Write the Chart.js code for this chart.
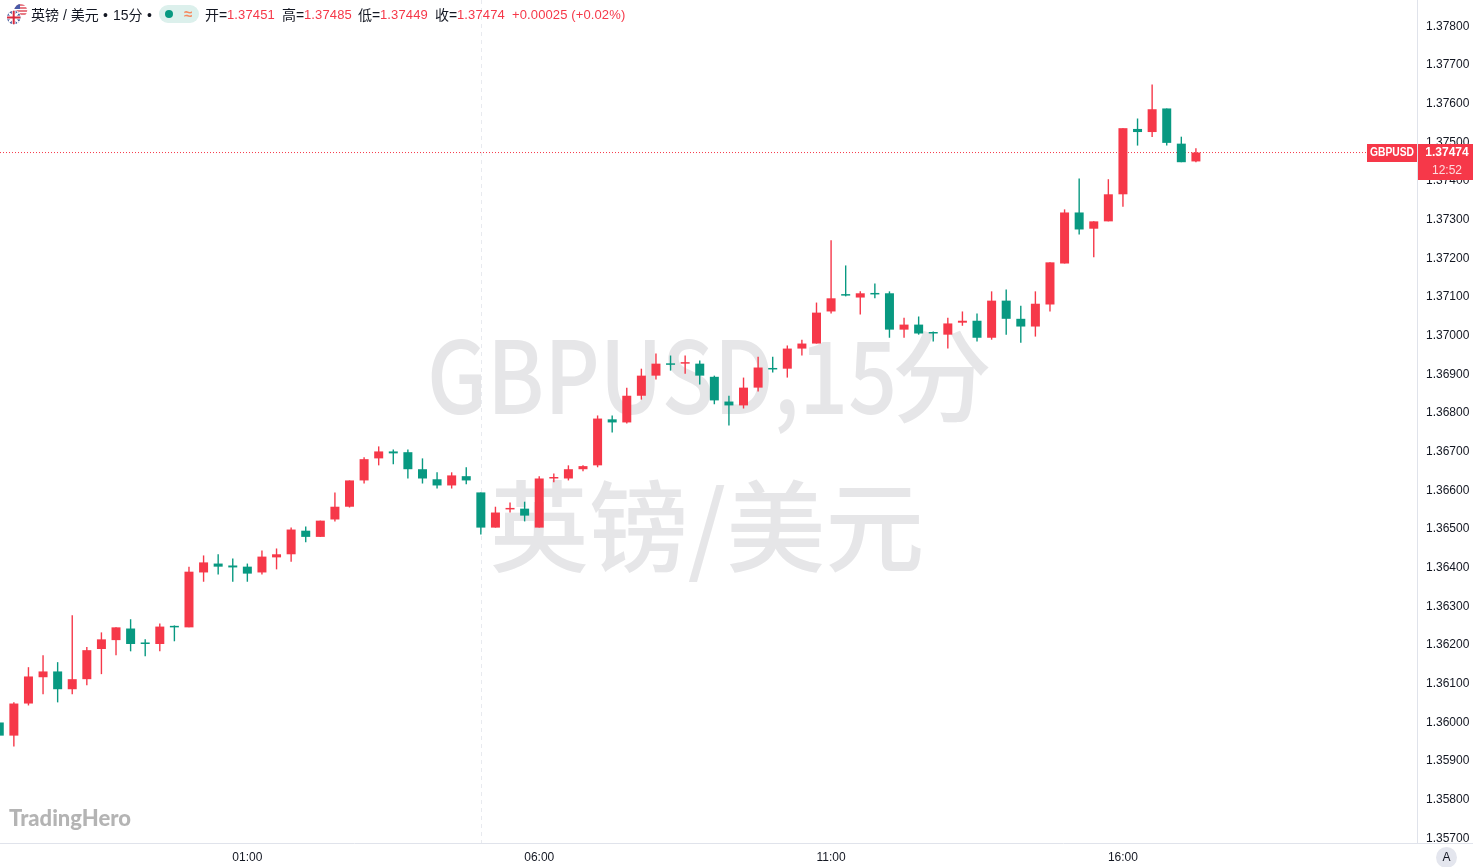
<!DOCTYPE html>
<html>
<head>
<meta charset="utf-8">
<title>GBPUSD 15分</title>
<script src="https://cdn.jsdelivr.net/npm/chart.js@4"></script>
<style>
  html, body { margin: 0; padding: 0; background: #fff; overflow: hidden; }
  #wrap { position: relative; width: 1473px; height: 867px; }
  canvas { position: absolute; left: 0; top: 0; }
  .t { position: absolute; top: 6px; font: 14px/18px "Liberation Sans", "Noto Sans CJK SC", sans-serif; color: #131722; white-space: nowrap; }
  .v { font-size: 13px; color: #f63849; letter-spacing: 0.12px; }
  #pill { position: absolute; left: 159px; top: 5px; width: 40px; height: 18px; border-radius: 9px; background: #dcf0ec; }
  #dot { position: absolute; left: 6px; top: 5px; width: 8px; height: 8px; border-radius: 50%; background: #089981; }
  #wave { position: absolute; left: 25px; top: 0; font: bold 15px/18px "Liberation Sans", sans-serif; color: #f58a60; }
  #flags { position: absolute; left: 6px; top: 4px; }
  #auto { position: absolute; left: 1436px; top: 847px; width: 21px; height: 21px; border-radius: 50%; background: #e4e6ee; color: #131722; font: 12px/21px "Liberation Sans", sans-serif; text-align: center; }
  #logo { position: absolute; left: 9px; top: 804px; font: 900 22px/28px "Lato", sans-serif; color: #b4b4b4; }
</style>
</head>
<body>
<div id="wrap">
  <canvas id="chart" width="1473" height="867"></canvas>
  <svg id="flags" width="22" height="22" viewBox="0 0 22 22">
    <defs>
      <clipPath id="cu"><circle cx="14.7" cy="6.5" r="6.5"/></clipPath>
      <clipPath id="cb"><circle cx="7.7" cy="13.5" r="6.7"/></clipPath>
    </defs>
    <g clip-path="url(#cu)">
      <rect x="8" y="0" width="14" height="13" fill="#fff"/>
      <path d="M8 1h14M8 4h14M8 7h14M8 10h14" stroke="#e0505e" stroke-width="1.5"/>
      <rect x="8" y="0" width="6" height="5" fill="#4a5ca8"/>
    </g>
    <circle cx="7.7" cy="13.5" r="7.4" fill="#fff"/>
    <g clip-path="url(#cb)">
      <rect x="0" y="6" width="16" height="15" fill="#27408b"/>
      <path d="M1 7l13 13M14 7L1 20" stroke="#fff" stroke-width="2.4"/>
      <path d="M7.7 6v15M0 13.5h16" stroke="#fff" stroke-width="4"/>
      <path d="M7.7 6v15M0 13.5h16" stroke="#d8283c" stroke-width="2"/>
    </g>
  </svg>
  <span class="t" style="left:31px">英镑 / 美元</span>
  <span class="t" style="left:103px">•</span>
  <span class="t" style="left:113px">15分</span>
  <span class="t" style="left:147px">•</span>
  <div id="pill"><div id="dot"></div><div id="wave">≈</div></div>
  <span class="t" style="left:205px">开=</span><span class="t v" style="left:227px">1.37451</span>
  <span class="t" style="left:282px">高=</span><span class="t v" style="left:304px">1.37485</span>
  <span class="t" style="left:358px">低=</span><span class="t v" style="left:380px">1.37449</span>
  <span class="t" style="left:435px">收=</span><span class="t v" style="left:457px">1.37474</span>
  <span class="t v" style="left:512px">+0.00025 (+0.02%)</span>
  <div id="logo">TradingHero</div>
  <div id="auto">A</div>
</div>
<script>
// 15分K线
const opens = [
  1.36000, 1.35966, 1.36049, 1.36117, 1.36132, 1.36086, 1.36112, 1.36190, 1.36213, 1.36243,
  1.36205, 1.36203, 1.36248, 1.36246, 1.36388, 1.36411, 1.36406, 1.36403, 1.36388, 1.36427,
  1.36435, 1.36496, 1.36480, 1.36525, 1.36558, 1.36626, 1.36683, 1.36701, 1.36699, 1.36655,
  1.36629, 1.36613, 1.36637, 1.36595, 1.36504, 1.36551, 1.36553, 1.36504, 1.36631, 1.36631,
  1.36655, 1.36665, 1.36784, 1.36776, 1.36845, 1.36897, 1.36928, 1.36928, 1.36928, 1.36894,
  1.36830, 1.36820, 1.36866, 1.36915, 1.36915, 1.36967, 1.36980, 1.37063, 1.37107, 1.37099,
  1.37110, 1.37110, 1.37016, 1.37029, 1.37008, 1.37003, 1.37034, 1.37039, 1.36995, 1.37091,
  1.37044, 1.37024, 1.37081, 1.37187, 1.37319, 1.37277, 1.37296, 1.37366, 1.37535, 1.37527,
  1.37588, 1.37497, 1.37451
];
const closes = [
  1.35966, 1.36049, 1.36119, 1.36132, 1.36086, 1.36112, 1.36187, 1.36215, 1.36246, 1.36203,
  1.36203, 1.36248, 1.36246, 1.36390, 1.36414, 1.36403, 1.36401, 1.36385, 1.36429, 1.36435,
  1.36499, 1.36480, 1.36522, 1.36558, 1.36626, 1.36681, 1.36701, 1.36696, 1.36655, 1.36631,
  1.36613, 1.36639, 1.36626, 1.36504, 1.36543, 1.36553, 1.36535, 1.36631, 1.36634, 1.36655,
  1.36663, 1.36786, 1.36776, 1.36845, 1.36897, 1.36928, 1.36925, 1.36931, 1.36897, 1.36833,
  1.36820, 1.36866, 1.36918, 1.36913, 1.36967, 1.36980, 1.37060, 1.37097, 1.37104, 1.37110,
  1.37107, 1.37016, 1.37029, 1.37006, 1.37006, 1.37032, 1.37039, 1.36995, 1.37091, 1.37044,
  1.37024, 1.37083, 1.37190, 1.37319, 1.37275, 1.37296, 1.37366, 1.37537, 1.37527, 1.37586,
  1.37499, 1.37449, 1.37474
];
const highs = [
  1.36000, 1.36052, 1.36143, 1.36174, 1.36156, 1.36277, 1.36195, 1.36233, 1.36246, 1.36267,
  1.36215, 1.36256, 1.36251, 1.36403, 1.36432, 1.36435, 1.36424, 1.36411, 1.36445, 1.36450,
  1.36504, 1.36507, 1.36522, 1.36595, 1.36626, 1.36686, 1.36714, 1.36706, 1.36706, 1.36683,
  1.36647, 1.36647, 1.36660, 1.36595, 1.36558, 1.36569, 1.36571, 1.36637, 1.36644, 1.36665,
  1.36665, 1.36794, 1.36794, 1.36866, 1.36915, 1.36954, 1.36949, 1.36949, 1.36936, 1.36897,
  1.36845, 1.36892, 1.36946, 1.36946, 1.36975, 1.36990, 1.37086, 1.37247, 1.37182, 1.37115,
  1.37135, 1.37115, 1.37047, 1.37050, 1.37011, 1.37047, 1.37063, 1.37058, 1.37115, 1.37120,
  1.37078, 1.37115, 1.37190, 1.37327, 1.37407, 1.37296, 1.37405, 1.37537, 1.37562, 1.37650,
  1.37588, 1.37515, 1.37485
];
const lows = [
  1.35966, 1.35938, 1.36044, 1.36073, 1.36052, 1.36073, 1.36096, 1.36125, 1.36174, 1.36184,
  1.36171, 1.36184, 1.36210, 1.36246, 1.36364, 1.36383, 1.36364, 1.36364, 1.36383, 1.36396,
  1.36416, 1.36466, 1.36480, 1.36520, 1.36556, 1.36618, 1.36665, 1.36668, 1.36631, 1.36618,
  1.36605, 1.36605, 1.36616, 1.36486, 1.36504, 1.36543, 1.36520, 1.36504, 1.36621, 1.36626,
  1.36650, 1.36660, 1.36750, 1.36773, 1.36835, 1.36887, 1.36910, 1.36902, 1.36874, 1.36823,
  1.36768, 1.36812, 1.36856, 1.36905, 1.36892, 1.36949, 1.36980, 1.37058, 1.37102, 1.37055,
  1.37097, 1.36995, 1.36995, 1.37003, 1.36985, 1.36967, 1.37026, 1.36985, 1.36990, 1.37003,
  1.36982, 1.36998, 1.37063, 1.37187, 1.37262, 1.37203, 1.37296, 1.37334, 1.37492, 1.37514,
  1.37492, 1.37449, 1.37449
];
const priceTicks = [
  1.357, 1.358, 1.359, 1.360, 1.361, 1.362, 1.363, 1.364, 1.365, 1.366, 1.367,
  1.368, 1.369, 1.370, 1.371, 1.372, 1.373, 1.374, 1.375, 1.376, 1.377, 1.378
];
const timeLabels = ['01:00', '06:00', '11:00', '16:00'];
const timeIndexes = [17, 37, 57, 77];
const sessionBreakIndex = 33;
const lastPrice = 1.37474;
const countdown = '12:52';
const symbol = 'GBPUSD';

const UP = '#f63849';
const DOWN = '#089981';
const xMin = 0.05;
const xMax = 97.15;
const candleColors = opens.map((o, i) => (closes[i] >= o ? UP : DOWN));

// 水印、时段分隔线在K线下面，价格标签在最上面
const overlay = {
  id: 'overlay',
  beforeDatasetsDraw(chart) {
    const { ctx, chartArea, scales } = chart;
    ctx.save();
    ctx.fillStyle = '#e6e6e8';
    ctx.textBaseline = 'alphabetic';
    ctx.textAlign = 'left';
    ctx.font = '500 100px "Noto Sans CJK SC"';
    ctx.fillText('GBPUSD,15', 427, 414, 470);
    ctx.fillText('分', 892, 414);
    ctx.font = '500 99px "Noto Sans CJK SC"';
    ctx.textAlign = 'center';
    ctx.fillText('英镑/美元', 707, 564);
    const bx = Math.round(scales.x.getPixelForValue(sessionBreakIndex)) + 0.5;
    ctx.strokeStyle = '#e8eaef';
    ctx.setLineDash([4, 4]);
    ctx.beginPath();
    ctx.moveTo(bx, chartArea.top);
    ctx.lineTo(bx, chartArea.bottom);
    ctx.stroke();
    ctx.restore();
  },
  afterDraw(chart) {
    const { ctx, chartArea, scales } = chart;
    const y = Math.round(scales.y.getPixelForValue(lastPrice));
    ctx.save();
    ctx.strokeStyle = '#e0e3eb';
    ctx.beginPath();
    ctx.moveTo(chartArea.right, chartArea.bottom + 0.5);
    ctx.lineTo(1473, chartArea.bottom + 0.5);
    ctx.stroke();
    ctx.fillStyle = UP;
    ctx.fillRect(1367, y - 9, 50, 18);
    ctx.fillRect(1418, y - 9, 55, 36);
    ctx.textBaseline = 'middle';
    ctx.textAlign = 'center';
    ctx.fillStyle = '#fff';
    ctx.font = 'bold 12px "Liberation Sans"';
    ctx.fillText(symbol, 1392, y, 44);
    ctx.fillText(lastPrice.toFixed(5), 1447, y);
    ctx.fillStyle = 'rgba(255,255,255,0.82)';
    ctx.font = '12px "Liberation Sans"';
    ctx.fillText(countdown, 1447, y + 18);
    ctx.restore();
  }
};

new Chart(document.getElementById('chart').getContext('2d'), {
  type: 'bar',
  data: {
    datasets: [
      {
        type: 'bar',
        label: 'body',
        order: 1,
        grouped: false,
        data: opens.map((o, i) => ({ x: i, y: [o, closes[i]] })),
        backgroundColor: candleColors,
        barThickness: 9,
        minBarLength: 1.5,
        borderWidth: 0,
        inflateAmount: 0
      },
      {
        type: 'bar',
        label: 'wick',
        order: 2,
        grouped: false,
        data: lows.map((l, i) => ({ x: i, y: [l, highs[i]] })),
        backgroundColor: candleColors,
        barThickness: 1.4,
        borderWidth: 0,
        inflateAmount: 0
      },
      {
        type: 'line',
        label: 'last',
        order: 3,
        data: [{ x: xMin, y: lastPrice }, { x: xMax, y: lastPrice }],
        borderColor: UP,
        borderWidth: 1,
        borderDash: [1, 2],
        pointRadius: 0
      }
    ]
  },
  options: {
    responsive: false,
    animation: false,
    layout: { padding: 0 },
    plugins: { legend: { display: false }, tooltip: { enabled: false } },
    scales: {
      x: {
        type: 'linear',
        offset: false,
        min: xMin,
        max: xMax,
        grid: { display: false, drawTicks: false },
        border: { display: true, color: '#e0e3eb' },
        afterFit(scale) {
          scale.height = 24;
          scale.paddingLeft = 0;
          scale.paddingRight = 0;
        },
        afterBuildTicks(scale) { scale.ticks = timeIndexes.map(v => ({ value: v })); },
        ticks: {
          autoSkip: false,
          maxRotation: 0,
          padding: 7,
          color: '#131722',
          font: { family: '"Liberation Sans"', size: 12 },
          callback: v => timeLabels[timeIndexes.indexOf(v)]
        }
      },
      y: {
        position: 'right',
        min: 1.356883,
        max: 1.378685,
        grid: { display: false, drawTicks: false },
        border: { display: true, color: '#e0e3eb' },
        afterFit(scale) {
          scale.width = 56;
          scale.paddingTop = 0;
          scale.paddingBottom = 0;
        },
        afterBuildTicks(scale) { scale.ticks = priceTicks.map(v => ({ value: v })); },
        ticks: {
          autoSkip: false,
          crossAlign: 'near',
          padding: 9,
          color: '#131722',
          font: { family: '"Liberation Sans"', size: 12 },
          callback: v => v.toFixed(5)
        }
      }
    }
  },
  plugins: [overlay]
});
</script>
</body>
</html>
